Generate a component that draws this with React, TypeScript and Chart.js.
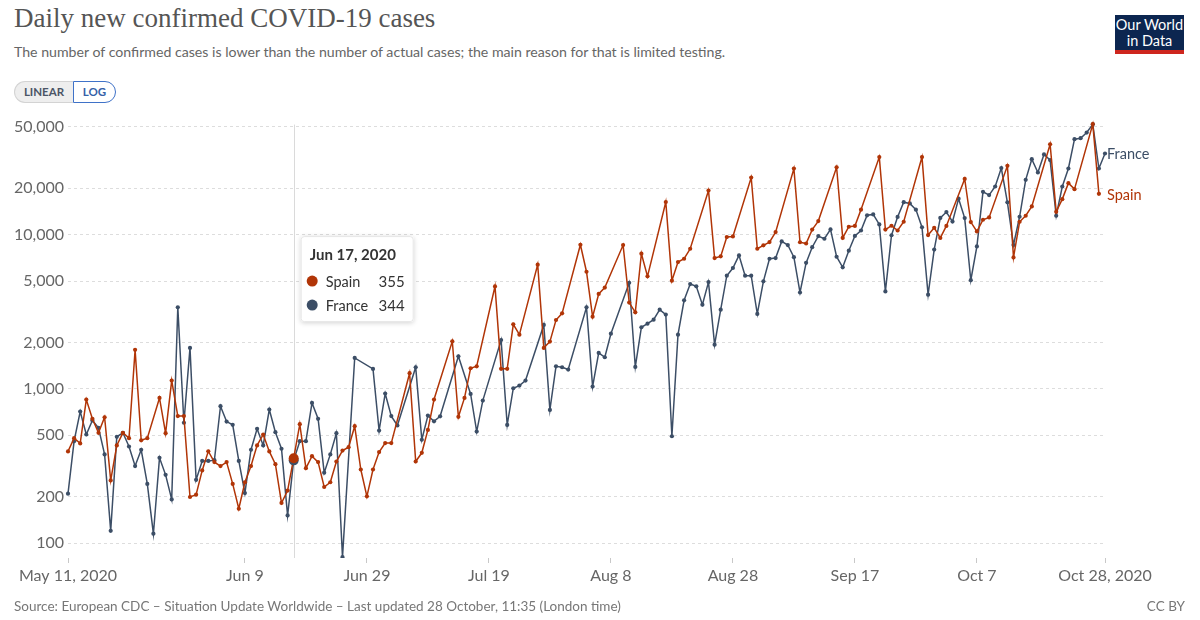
import React, { useEffect, useRef } from 'react';
import { Chart, registerables } from 'chart.js';

Chart.register(...registerables);

const MONTHS = ['Jan', 'Feb', 'Mar', 'Apr', 'May', 'Jun', 'Jul', 'Aug', 'Sep', 'Oct', 'Nov', 'Dec'];
const DAY_COUNT = 171; // May 11, 2020 .. Oct 28, 2020
const dates: string[] = Array.from({ length: DAY_COUNT }, (_, i) => {
  const d = new Date(Date.UTC(2020, 4, 11 + i));
  return `${MONTHS[d.getUTCMonth()]} ${d.getUTCDate()}, ${d.getUTCFullYear()}`;
});

const xTickIndex = [0, 29, 49, 69, 89, 109, 129, 149, 170];
const xTickLabels = ['May 11, 2020', 'Jun 9', 'Jun 29', 'Jul 19', 'Aug 8', 'Aug 28', 'Sep 17', 'Oct 7', 'Oct 28, 2020'];
const yTicks = [100, 200, 500, 1000, 2000, 5000, 10000, 20000, 50000];

const spain: (number | null)[] = [
  393, 479, 443, 853, 640, 519, 655, 255, 430, 519,
  479, 1792, 464, 479, null, 874, 516, 1132, 666, 666,
  199, 206, 296, 394, 335, 316, 335, 242, 167, 248,
  316, 430, 506, 393, 325, 182, 219, 355, 590, 306,
  366, 335, 231, 248, 338, 398, 419, 573, 300, 201,
  300, 389, 445, 445, null, null, 1264, 338, 385, 542,
  853, null, null, 2036, 659, 874, 1361, 1402, null, null,
  4624, 1349, 1349, 2625, 2249, null, null, 6394, 1845, 2027,
  2798, 3090, null, null, 8611, 5754, 2943, 4130, 4539, null,
  null, 8570, 3630, 3140, 7535, 5372, null, null, 16300, 5035,
  6648, 6985, 8109, null, null, 19360, 7059, 7240, 9660, 9750,
  null, null, 23500, 8109, 8536, 8960, 10400, null, null, 26850,
  8940, 8770, 10800, 12260, null, null, 27400, 9540, 11270, 11400,
  14550, null, null, 31900, 10800, 11440, 10650, 12140, null, null,
  31900, 9950, 11100, 9540, 11400, null, null, 23000, 12080, 10510,
  12510, 12950, null, null, 27990, 7130, 12140, 13280, 15270, null,
  null, 38630, 14090, 17020, 21610, 19760, null, null, 52188, 18418,
  null,
];

const france: (number | null)[] = [
  209, 458, 713, 506, 624, 559, 376, 120, 489, 519,
  423, 316, 403, 242, 115, 357, 277, 192, 3383, 603,
  1845, 257, 341, 341, 345, 772, 614, 585, 341, 211,
  403, 551, 430, 735, 524, 409, 151, 344, 458, 458,
  811, 640, 286, 376, 516, 81, null, 1588, null, null,
  1348, 537, 933, 666, 579, null, null, 1382, 468, 671,
  616, 664, null, null, 1628, null, 928, 529, 840, null,
  null, 2075, 584, 1010, 1051, 1132, null, null, 2600, 731,
  1402, 1382, 1335, null, null, 3381, 1035, 1712, 1604, 2280,
  null, null, 4880, 1389, 2512, 2650, 2813, 3266, 3033, 493,
  2249, 3757, 4788, 4625, 3517, 4930, 1935, 3266, 5424, 6085,
  7345, 5424, 5424, 3063, 4986, 6985, 7059, 9050, 8575, 7150,
  4220, 6570, 8300, 9800, 9420, 10830, 7200, 6150, 7880, 9830,
  10650, 13370, 13550, 11670, 4290, 9920, 13040, 16260, 15960, 14550,
  11180, 4085, 8010, 12850, 14030, 12170, 17140, 12820, 5070, 8400,
  18990, 18080, 20560, 27050, 16220, 8575, 13080, 22700, 30900, 25330,
  33200, 30500, 13280, 20560, 26900, 41700, 42300, 46000, 52010, 26900,
  33650,
];

const seriesNames = ['Spain', 'France'];
const seriesColors = ['#b13507', '#3c4e66'];
const hoverIndex = 37;

const FONT = 'Lato, "Noto Sans", sans-serif';

function lastIndex(arr: (number | null)[]) {
  for (let i = arr.length - 1; i >= 0; i--) if (arr[i] !== null) return i;
  return -1;
}

const overlayPlugin = {
  id: 'owidOverlay',
  beforeDatasetsDraw(chart: any) {
    const { ctx, chartArea } = chart;
    const pt = chart.getDatasetMeta(0).data[hoverIndex];
    if (!pt) return;
    ctx.save();
    ctx.strokeStyle = '#dadada';
    ctx.lineWidth = 1;
    ctx.beginPath();
    ctx.moveTo(Math.round(pt.x) + 0.5, chartArea.top + 4);
    ctx.lineTo(Math.round(pt.x) + 0.5, chartArea.bottom);
    ctx.stroke();
    ctx.restore();
  },
  afterDatasetsDraw(chart: any) {
    const { ctx, chartArea } = chart;
    // hover dots (France under Spain)
    for (const di of [1, 0]) {
      const p = chart.getDatasetMeta(di).data[hoverIndex];
      if (!p) continue;
      ctx.save();
      ctx.fillStyle = seriesColors[di];
      ctx.beginPath();
      ctx.arc(p.x, p.y, 5, 0, Math.PI * 2);
      ctx.fill();
      ctx.restore();
    }
    // end labels
    const series = [spain, france];
    ctx.save();
    ctx.font = `14.5px ${FONT}`;
    ctx.textBaseline = 'middle';
    ctx.textAlign = 'left';
    series.forEach((arr, di) => {
      const li = lastIndex(arr);
      const p = chart.getDatasetMeta(di).data[li];
      if (!p) return;
      ctx.fillStyle = seriesColors[di];
      ctx.fillText(seriesNames[di], chartArea.right + 2, p.y + 1);
    });
    ctx.restore();

    // tooltip
    const pt = chart.getDatasetMeta(0).data[hoverIndex];
    const bx = pt.x + 7;
    const by = chartArea.top + 115.5;
    const bw = 113;
    const bh = 86;
    ctx.save();
    ctx.shadowColor = 'rgba(0,0,0,0.18)';
    ctx.shadowBlur = 5;
    ctx.shadowOffsetY = 1;
    ctx.fillStyle = '#fff';
    ctx.beginPath();
    (ctx as any).roundRect(bx, by, bw, bh, 3);
    ctx.fill();
    ctx.restore();
    ctx.save();
    ctx.strokeStyle = '#e6e6e6';
    ctx.lineWidth = 1;
    ctx.beginPath();
    (ctx as any).roundRect(bx + 0.5, by + 0.5, bw - 1, bh - 1, 3);
    ctx.stroke();
    ctx.fillStyle = '#333';
    ctx.textBaseline = 'middle';
    ctx.font = `bold 15px ${FONT}`;
    ctx.fillText(dates[hoverIndex], bx + 9, by + 19);
    const rows = [spain[hoverIndex], france[hoverIndex]];
    rows.forEach((v, di) => {
      const ry = by + 45 + di * 24;
      ctx.fillStyle = seriesColors[di];
      ctx.beginPath();
      ctx.arc(bx + 11.5, ry, 5.5, 0, Math.PI * 2);
      ctx.fill();
      ctx.fillStyle = '#333';
      ctx.font = `14.5px ${FONT}`;
      ctx.textAlign = 'left';
      ctx.fillText(seriesNames[di], bx + 25, ry + 1);
      ctx.textAlign = 'right';
      ctx.font = `15px ${FONT}`;
      ctx.fillText(String(v), bx + 104, ry + 1);
    });
    ctx.restore();
  },
};

export default function App() {
  const canvasRef = useRef<HTMLCanvasElement | null>(null);

  useEffect(() => {
    const prevMargin = document.body.style.margin;
    document.body.style.margin = '0';
    const canvas = canvasRef.current;
    if (!canvas) return;
    const chart = new Chart(canvas, {
      type: 'line',
      data: {
        labels: dates,
        datasets: [spain, france].map((arr, di) => ({
          label: seriesNames[di],
          data: arr,
          borderColor: seriesColors[di],
          backgroundColor: seriesColors[di],
          borderWidth: 1.5,
          pointRadius: 2.1,
          pointBorderWidth: 0,
          pointBackgroundColor: seriesColors[di],
          spanGaps: true,
          tension: 0,
        })),
      },
      options: {
        animation: false,
        responsive: false,
        events: [],
        layout: { padding: { left: 0, right: 95, top: 10.6, bottom: 0 } },
        plugins: {
          legend: { display: false },
          tooltip: { enabled: false },
        },
        scales: {
          x: {
            type: 'category',
            offset: false,
            border: { display: false },
            grid: { drawOnChartArea: false, drawTicks: true, tickLength: 5, color: '#c8c8c8' },
            ticks: {
              autoSkip: false,
              maxRotation: 0,
              padding: 3,
              color: '#666',
              font: { family: FONT, size: 16 },
              callback: (value: any) => {
                const k = xTickIndex.indexOf(Number(value));
                return k >= 0 ? xTickLabels[k] : '';
              },
            },
            afterBuildTicks: (axis: any) => {
              axis.ticks = xTickIndex.map((v) => ({ value: v }));
            },
            afterFit: (scale: any) => {
              scale.height = 42;
            },
          },
          y: {
            type: 'logarithmic',
            min: 80,
            max: 55000,
            border: { display: false, dash: [3, 3] },
            grid: { color: '#dddddd', drawTicks: false, lineWidth: 1 },
            ticks: {
              autoSkip: false,
              padding: 4,
              color: '#666',
              font: { family: FONT, size: 16 },
              callback: (value: any) => Number(value).toLocaleString('en-US'),
            },
            afterBuildTicks: (axis: any) => {
              axis.ticks = yTicks.map((v) => ({ value: v }));
            },
            afterFit: (scale: any) => {
              scale.width = 68;
              scale.paddingTop = 0;
              scale.paddingBottom = 0;
            },
          },
        },
      },
      plugins: [overlayPlugin],
    } as any);
    return () => {
      chart.destroy();
      document.body.style.margin = prevMargin;
    };
  }, []);

  return (
    <div style={{ position: 'absolute', left: 0, top: 0, width: 1200, height: 620, background: '#fff', overflow: 'hidden', fontFamily: FONT }}>
      <div style={{ position: 'absolute', left: 14, top: 3, fontFamily: '"Liberation Serif", "DejaVu Serif", serif', fontSize: 27, color: '#555', whiteSpace: 'nowrap' }}>
        Daily new confirmed COVID-19 cases
      </div>
      <div style={{ position: 'absolute', left: 14, top: 43, fontSize: 14.15, color: '#666', whiteSpace: 'nowrap' }}>
        The number of confirmed cases is lower than the number of actual cases; the main reason for that is limited testing.
      </div>
      <div style={{ position: 'absolute', left: 14, top: 81, height: 22, display: 'flex', fontSize: 11.5, fontWeight: 700 }}>
        <div style={{ width: 58, height: 20, lineHeight: '20px', textAlign: 'center', background: '#eeeeee', border: '1px solid #d3d3d3', borderRight: 'none', borderRadius: '11px 0 0 11px', color: '#4b5566' }}>LINEAR</div>
        <div style={{ width: 41, height: 20, lineHeight: '20px', textAlign: 'center', background: '#fff', border: '1px solid #3f72c8', borderRadius: '0 11px 11px 0', color: '#3561a8' }}>LOG</div>
      </div>
      <div style={{ position: 'absolute', left: 1115, top: 15, width: 69, height: 39, background: '#0c2650', color: '#fff', textAlign: 'center', fontSize: 14.5, lineHeight: '16px', paddingTop: 2, boxSizing: 'border-box', borderBottom: '4px solid #ce261e' }}>
        <div>Our World</div>
        <div>in Data</div>
      </div>
      <canvas ref={canvasRef} width={1200} height={490} style={{ position: 'absolute', left: 0, top: 110, width: 1200, height: 490 }} />
      <div style={{ position: 'absolute', left: 14, top: 598, fontSize: 13.5, color: '#777', whiteSpace: 'nowrap' }}>
        Source: European CDC – Situation Update Worldwide – Last updated 28 October, 11:35 (London time)
      </div>
      <div style={{ position: 'absolute', right: 15, top: 598, fontSize: 13.5, color: '#777' }}>CC BY</div>
    </div>
  );
}
